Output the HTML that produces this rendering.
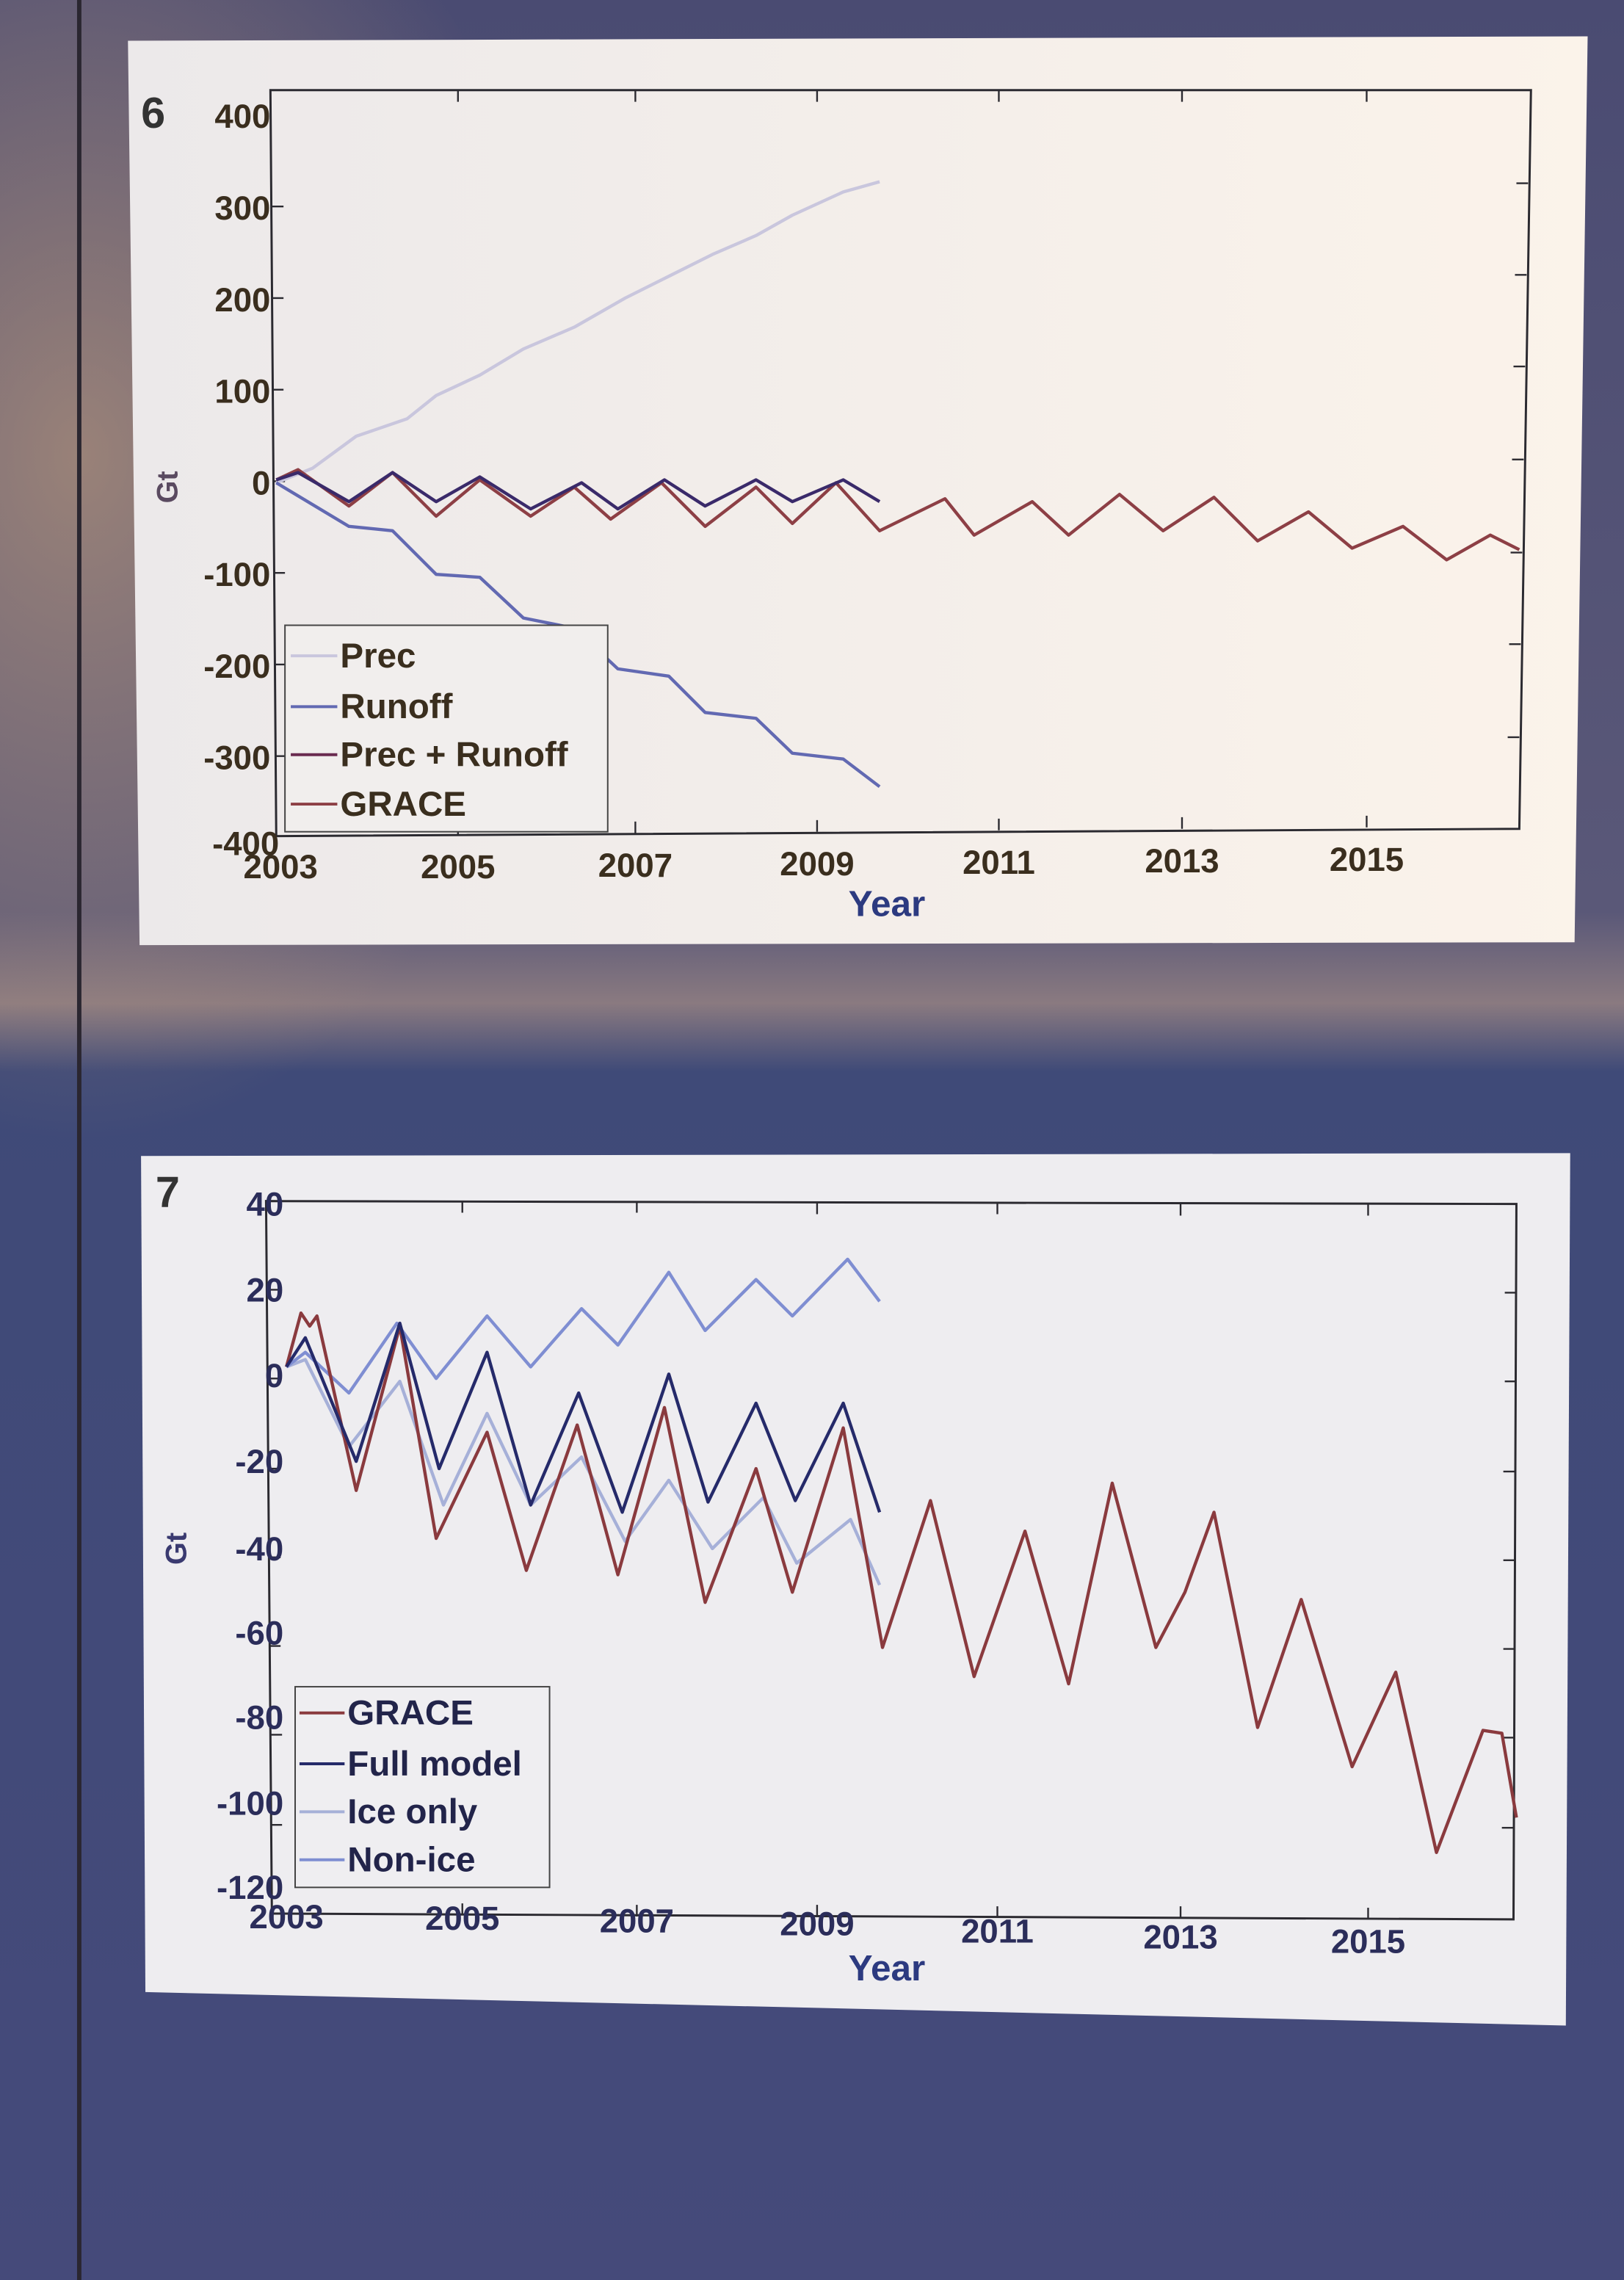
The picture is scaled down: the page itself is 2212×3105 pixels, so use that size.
<!DOCTYPE html>
<html><head><meta charset="utf-8"><style>
html,body{margin:0;padding:0;background:#4b4e76;}
svg{display:block}
text{font-family:"Liberation Sans",sans-serif;font-weight:bold;}
</style></head><body>
<svg width="2212" height="3105" viewBox="0 0 1117 1568" preserveAspectRatio="none" xmlns="http://www.w3.org/2000/svg">
<defs>
<linearGradient id="bg" x1="0" y1="0" x2="0" y2="1">
<stop offset="0" stop-color="#4a4b72"/><stop offset="0.4" stop-color="#5a5878"/>
<stop offset="0.44" stop-color="#8a7a80"/><stop offset="0.47" stop-color="#3f4a78"/>
<stop offset="1" stop-color="#454a7a"/></linearGradient>
<radialGradient id="glow" cx="0.05" cy="0.2" r="0.3"><stop offset="0" stop-color="#c9a27a" stop-opacity="0.6"/><stop offset="1" stop-color="#c9a27a" stop-opacity="0"/></radialGradient>
<linearGradient id="p1" x1="0" y1="0" x2="1" y2="0"><stop offset="0" stop-color="#ece9ea"/><stop offset="1" stop-color="#fbf3ea"/></linearGradient>
</defs>
<rect width="1117" height="1568" fill="url(#bg)"/>
<rect width="1117" height="1568" fill="url(#glow)"/>
<rect x="53" y="0" width="3" height="1568" fill="#2a2630"/>
<!-- panel 1 -->
<polygon points="88,28 1092,25 1083,648 96,650" fill="url(#p1)"/>
<polygon points="186,62 1053,62 1045,570 190,575" fill="none" stroke="#2b2a30" stroke-width="1.5"/>
<g stroke="#2b2a30" stroke-width="1.2">
<line x1="187" y1="142" x2="195" y2="142"/><line x1="187" y1="205" x2="195" y2="205"/><line x1="187" y1="268" x2="195" y2="268"/><line x1="188" y1="331" x2="196" y2="331"/><line x1="188" y1="394" x2="196" y2="394"/><line x1="189" y1="457" x2="197" y2="457"/><line x1="189" y1="520" x2="197" y2="520"/>
<line x1="1043" y1="126" x2="1051" y2="126"/><line x1="1042" y1="189" x2="1050" y2="189"/><line x1="1041" y1="252" x2="1049" y2="252"/><line x1="1040" y1="316" x2="1048" y2="316"/><line x1="1039" y1="380" x2="1047" y2="380"/><line x1="1038" y1="443" x2="1046" y2="443"/><line x1="1037" y1="507" x2="1045" y2="507"/>
<line x1="315" y1="62" x2="315" y2="70"/><line x1="437" y1="62" x2="437" y2="70"/><line x1="562" y1="62" x2="562" y2="70"/><line x1="687" y1="62" x2="687" y2="70"/><line x1="813" y1="62" x2="813" y2="70"/><line x1="940" y1="62" x2="940" y2="70"/>
<line x1="315" y1="566" x2="315" y2="574"/><line x1="437" y1="565" x2="437" y2="573"/><line x1="562" y1="564" x2="562" y2="572"/><line x1="687" y1="563" x2="687" y2="571"/><line x1="813" y1="562" x2="813" y2="570"/><line x1="940" y1="561" x2="940" y2="569"/>
</g>
<g font-size="23" fill="#3a2e1e" text-anchor="end">
<text x="186" y="88">400</text><text x="186" y="151">300</text><text x="186" y="214">200</text>
<text x="186" y="277">100</text><text x="186" y="340">0</text><text x="186" y="403">-100</text>
<text x="186" y="466">-200</text><text x="186" y="529">-300</text><text x="192" y="588">-400</text>
</g>
<text x="97" y="88" font-size="30" font-weight="normal" fill="#333">6</text>
<g font-size="23" fill="#3a2e1e" text-anchor="middle">
<text x="193" y="604">2003</text><text x="315" y="604">2005</text><text x="437" y="603">2007</text>
<text x="562" y="602">2009</text><text x="687" y="601">2011</text><text x="813" y="600">2013</text><text x="940" y="599">2015</text>
</g>
<text x="610" y="630" font-size="25" fill="#2c3a80" text-anchor="middle">Year</text>
<text x="122" y="335" font-size="20" fill="#5a4a60" text-anchor="middle" transform="rotate(-90 122 335)">Gt</text>
<g fill="none" stroke-width="2.2" stroke-linejoin="round">
<polyline stroke="#c9c6dd" points="190,332 215,322 245,300 280,288 300,272 330,258 360,240 395,225 430,205 460,190 490,175 520,162 545,148 580,132 605,125"/>
<polyline stroke="#6269b2" points="190,332 240,362 270,365 300,395 330,397 360,425 395,432 425,460 460,465 485,490 520,494 545,518 580,522 605,541"/>
<polyline stroke="#8d3f45" points="190,330 205,323 240,348 270,325 300,355 330,330 365,355 395,335 420,357 455,332 485,362 520,335 545,360 575,332 605,365 650,343 670,368 710,345 735,368 770,340 800,365 835,342 865,372 900,352 930,377 965,362 995,385 1025,368 1045,378"/>
<polyline stroke="#3a2a6a" points="190,330 205,325 240,345 270,325 300,345 330,328 365,350 400,332 425,350 457,330 485,348 520,330 545,345 580,330 605,345"/>
</g>
<rect x="196" y="430" width="222" height="142" fill="#f1eeed" stroke="#444" stroke-width="1"/>
<g stroke-width="2"><line x1="200" y1="451" x2="232" y2="451" stroke="#c9c6dd"/><line x1="200" y1="486" x2="232" y2="486" stroke="#6269b2"/><line x1="200" y1="519" x2="232" y2="519" stroke="#6a2a50"/><line x1="200" y1="553" x2="232" y2="553" stroke="#8d3f45"/></g>
<g font-size="24" fill="#3a2e1e"><text x="234" y="459">Prec</text><text x="234" y="494">Runoff</text><text x="234" y="527">Prec + Runoff</text><text x="234" y="561">GRACE</text></g>
<!-- panel 2 -->
<polygon points="97,795 1080,793 1077,1393 100,1370" fill="#eeedf0"/>
<polygon points="183,826 1043,828 1041,1320 187,1316" fill="none" stroke="#2b2a30" stroke-width="1.5"/>
<g stroke="#2b2a30" stroke-width="1.2">
<line x1="184" y1="887" x2="192" y2="887"/><line x1="184" y1="948" x2="192" y2="948"/><line x1="185" y1="1010" x2="193" y2="1010"/><line x1="185" y1="1071" x2="193" y2="1071"/><line x1="185" y1="1132" x2="193" y2="1132"/><line x1="186" y1="1193" x2="194" y2="1193"/><line x1="186" y1="1255" x2="194" y2="1255"/>
<line x1="1035" y1="889" x2="1043" y2="889"/><line x1="1035" y1="950" x2="1043" y2="950"/><line x1="1034" y1="1012" x2="1042" y2="1012"/><line x1="1034" y1="1073" x2="1042" y2="1073"/><line x1="1034" y1="1134" x2="1042" y2="1134"/><line x1="1033" y1="1195" x2="1041" y2="1195"/><line x1="1033" y1="1257" x2="1041" y2="1257"/>
<line x1="318" y1="826" x2="318" y2="834"/><line x1="438" y1="826" x2="438" y2="834"/><line x1="562" y1="827" x2="562" y2="835"/><line x1="686" y1="827" x2="686" y2="835"/><line x1="812" y1="828" x2="812" y2="836"/><line x1="941" y1="828" x2="941" y2="836"/>
<line x1="318" y1="1309" x2="318" y2="1317"/><line x1="438" y1="1310" x2="438" y2="1318"/><line x1="562" y1="1310" x2="562" y2="1318"/><line x1="686" y1="1311" x2="686" y2="1319"/><line x1="812" y1="1311" x2="812" y2="1319"/><line x1="941" y1="1312" x2="941" y2="1320"/>
</g>
<text x="107" y="830" font-size="30" font-weight="normal" fill="#333">7</text>
<g font-size="23" fill="#2b2d5a" text-anchor="end">
<text x="195" y="836">40</text><text x="195" y="895">20</text><text x="195" y="954">0</text>
<text x="195" y="1013">-20</text><text x="195" y="1073">-40</text><text x="195" y="1131">-60</text>
<text x="195" y="1189">-80</text><text x="195" y="1248">-100</text><text x="195" y="1306">-120</text>
</g>
<g font-size="23" fill="#2b2d5a" text-anchor="middle">
<text x="197" y="1326">2003</text><text x="318" y="1327">2005</text><text x="438" y="1329">2007</text>
<text x="562" y="1331">2009</text><text x="686" y="1336">2011</text><text x="812" y="1340">2013</text><text x="941" y="1343">2015</text>
</g>
<text x="610" y="1362" font-size="25" fill="#2c3a80" text-anchor="middle">Year</text>
<text x="128" y="1065" font-size="20" fill="#3a3a70" text-anchor="middle" transform="rotate(-90 128 1065)">Gt</text>
<g fill="none" stroke-width="2.2" stroke-linejoin="round">
<polyline stroke="#a6b0d8" points="197,940 210,935 240,995 275,950 305,1035 335,972 365,1035 400,1002 430,1060 460,1018 490,1065 525,1030 548,1075 585,1045 605,1090"/>
<polyline stroke="#7f8ed2" points="197,940 210,930 240,958 273,910 300,948 335,905 365,940 400,900 425,925 460,875 485,915 520,880 545,905 583,866 605,895"/>
<polyline stroke="#8a3a3e" points="197,940 207,903 213,912 218,905 245,1025 275,912 300,1058 335,985 362,1080 397,980 425,1083 457,968 485,1102 520,1010 545,1095 580,982 607,1133 640,1032 670,1153 705,1053 735,1158 765,1020 795,1133 815,1095 835,1040 865,1188 895,1100 930,1215 960,1150 988,1274 1020,1190 1033,1192 1043,1250"/>
<polyline stroke="#252a6a" points="197,940 210,920 245,1005 275,910 302,1010 335,930 365,1035 398,958 428,1040 460,945 487,1033 520,965 547,1032 580,965 605,1040"/>
</g>
<rect x="203" y="1160" width="175" height="138" fill="#efeef1" stroke="#444" stroke-width="1"/>
<g stroke-width="2"><line x1="206" y1="1178" x2="237" y2="1178" stroke="#8a3a3e"/><line x1="206" y1="1213" x2="237" y2="1213" stroke="#252a6a"/><line x1="206" y1="1246" x2="237" y2="1246" stroke="#a6b0d8"/><line x1="206" y1="1279" x2="237" y2="1279" stroke="#7f8ed2"/></g>
<g font-size="24" fill="#22244a"><text x="239" y="1186">GRACE</text><text x="239" y="1221">Full model</text><text x="239" y="1254">Ice only</text><text x="239" y="1287">Non-ice</text></g>
</svg>
</body></html>
